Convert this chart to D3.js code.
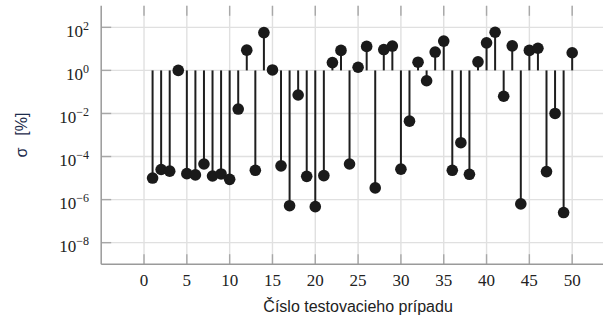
<!DOCTYPE html>
<html><head><meta charset="utf-8">
<script src="https://cdn.jsdelivr.net/npm/d3@7"></script>
<style>body{margin:0;background:#fff}svg{display:block}</style>
</head><body>
<svg id="c" width="603" height="321"></svg>
<script>
// Test case numbers
const cases = d3.range(1, 51);
// sigma [%] values (log scale)
const sigma = [
  1.0e-5, 2.5e-5, 2.1e-5, 1.0, 1.6e-5, 1.4e-5, 4.5e-5, 1.25e-5, 1.55e-5, 8.7e-6,
  1.6e-2, 8.7, 2.3e-5, 57, 1.05, 3.7e-5, 5.2e-7, 7.2e-2, 1.2e-5, 4.7e-7,
  1.3e-5, 2.3, 8.5, 4.5e-5, 1.4, 13, 3.5e-6, 9.3, 13.5, 2.6e-5,
  4.4e-3, 2.4, 0.33, 7.1, 23, 2.3e-5, 4.4e-4, 1.5e-5, 2.5, 19,
  59, 6.3e-2, 13.8, 6.3e-7, 8.5, 10.7, 2.0e-5, 1.0e-2, 2.5e-7, 6.6
];
const xTicks = [0, 5, 10, 15, 20, 25, 30, 35, 40, 45, 50];
const yTickExps = [2, 0, -2, -4, -6, -8];
const xLabel = "Číslo testovacieho prípadu";
const yLabelSym = "σ";
const yLabelUnit = "[%]";

const svg = d3.select("#c");
const L = 101.2, R = 615, T = 5.8, B = 264.2;
const x = d3.scaleLinear().domain([-5, 55]).range([L, R]);
const y = d3.scaleLog().domain([1e-9, 1e3]).range([B, T]);

const grid = "#e0e0e0", axc = "#9a9a9a";
// grid
svg.append("g").selectAll("line").data(xTicks).join("line")
  .attr("x1", d => x(d)).attr("x2", d => x(d)).attr("y1", T).attr("y2", B)
  .attr("stroke", grid).attr("stroke-width", 1.4);
svg.append("g").selectAll("line").data(yTickExps).join("line")
  .attr("x1", L).attr("x2", R).attr("y1", d => y(Math.pow(10, d))).attr("y2", d => y(Math.pow(10, d)))
  .attr("stroke", grid).attr("stroke-width", 1.4);

// ticks
const tk = svg.append("g").attr("stroke", "#a8a8a8").attr("stroke-width", 1.4);
xTicks.forEach(d => {
  tk.append("line").attr("x1", x(d)).attr("x2", x(d)).attr("y1", B).attr("y2", B - 10);
  tk.append("line").attr("x1", x(d)).attr("x2", x(d)).attr("y1", T).attr("y2", T + 10);
});
yTickExps.forEach(d => {
  tk.append("line").attr("x1", L).attr("x2", L + 10).attr("y1", y(Math.pow(10, d))).attr("y2", y(Math.pow(10, d)));
});

// axes lines
svg.append("line").attr("x1", L).attr("x2", L).attr("y1", T).attr("y2", B).attr("stroke", axc).attr("stroke-width", 1.5);
svg.append("line").attr("x1", L).attr("x2", R).attr("y1", B).attr("y2", B).attr("stroke", axc).attr("stroke-width", 1.5);

// stems
const g = svg.append("g");
g.selectAll("line").data(cases).join("line")
  .attr("x1", (d) => x(d)).attr("x2", d => x(d))
  .attr("y1", y(1)).attr("y2", (d, i) => y(sigma[i]))
  .attr("stroke", "#1e1e1e").attr("stroke-width", 2);
g.selectAll("circle").data(cases).join("circle")
  .attr("cx", d => x(d)).attr("cy", (d, i) => y(sigma[i])).attr("r", 5.8)
  .attr("fill", "#1a1a1a");

// x tick labels
const serif = "'Liberation Serif', 'DejaVu Serif', serif";
svg.append("g").selectAll("text").data(xTicks).join("text")
  .attr("x", d => x(d)).attr("y", 286).attr("text-anchor", "middle")
  .attr("font-family", serif).attr("font-size", 17).attr("fill", "#222").text(d => d);

// y tick labels
yTickExps.forEach(e => {
  const yy = y(Math.pow(10, e));
  const t = svg.append("text").attr("x", 89).attr("y", yy + 9.5).attr("text-anchor", "end")
    .attr("font-family", serif).attr("font-size", 17).attr("fill", "#222");
  t.append("tspan").text("10");
  t.append("tspan").attr("dy", -7).attr("font-size", 12).text(e < 0 ? "\u2212" + Math.abs(e) : String(e));
});

// axis labels
svg.append("text").attr("x", (L + R) / 2).attr("y", 312).attr("text-anchor", "middle")
  .attr("font-family", "'Liberation Sans', Arial, sans-serif").attr("font-size", 16).attr("fill", "#222").text(xLabel);
const yl = svg.append("text").attr("transform", `translate(27,${(T + B) / 2}) rotate(-90)`)
  .attr("text-anchor", "middle").attr("font-family", "'Liberation Sans', Arial, sans-serif")
  .attr("font-size", 16).attr("fill", "#1c2b4b");
yl.append("tspan").text(yLabelSym);
yl.append("tspan").attr("dx", 12).text(yLabelUnit);
</script>
</body></html>
